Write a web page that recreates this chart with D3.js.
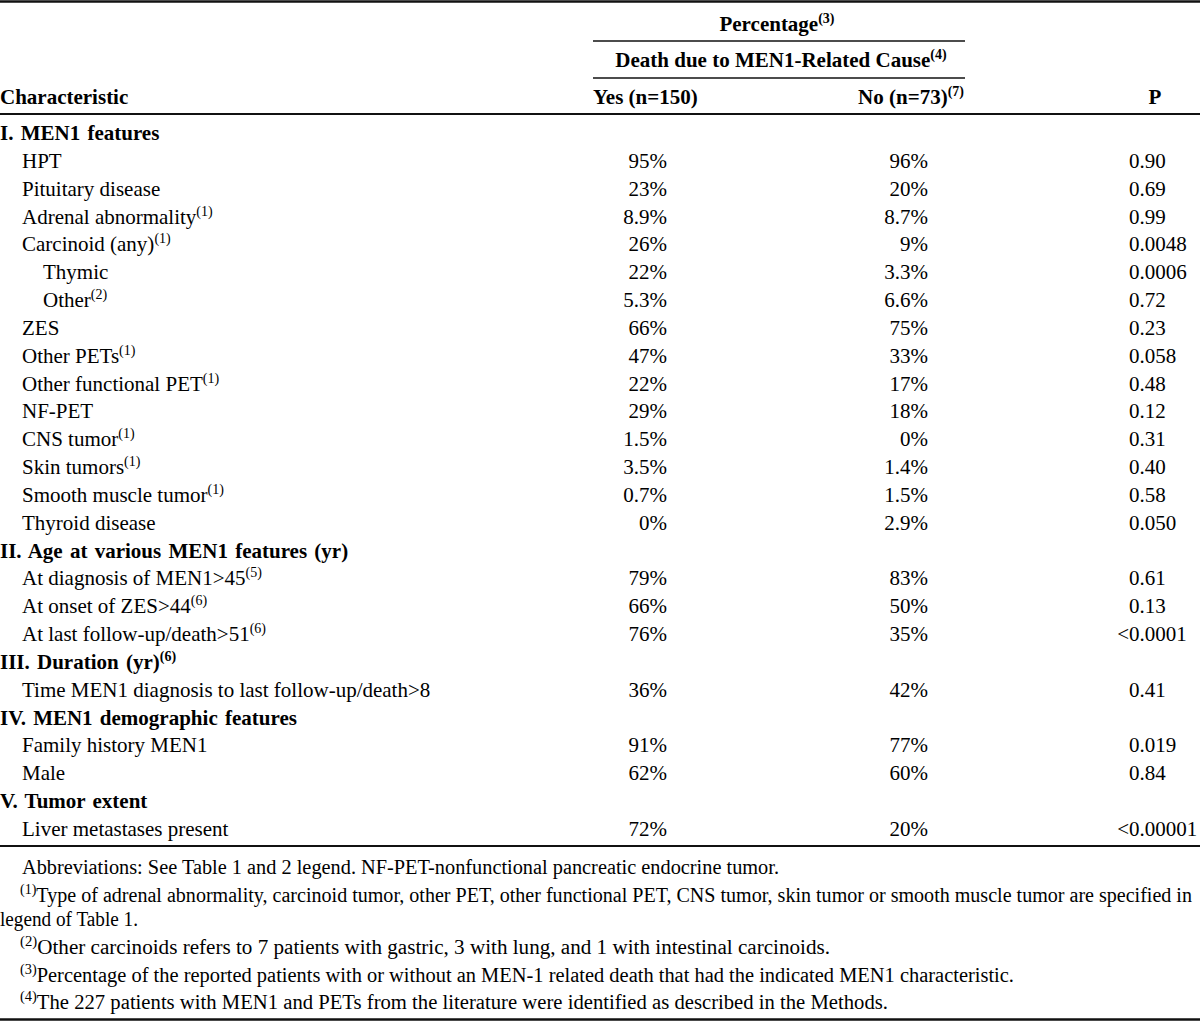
<!DOCTYPE html>
<html>
<head>
<meta charset="utf-8">
<script src="https://cdn.jsdelivr.net/npm/d3@7"></script>
<style>
  html, body { margin: 0; padding: 0; background: #fff; }
  svg { display: block; }
  text { font-family: "Liberation Serif", "Times New Roman", serif; fill: #000; }
</style>
</head>
<body>
<svg id="chart" width="1200" height="1022"></svg>
<script>
// ---------------- data ----------------
const characteristics = [
  "I. MEN1 features", "HPT", "Pituitary disease", "Adrenal abnormality", "Carcinoid (any)",
  "Thymic", "Other", "ZES", "Other PETs", "Other functional PET", "NF-PET", "CNS tumor",
  "Skin tumors", "Smooth muscle tumor", "Thyroid disease",
  "II. Age at various MEN1 features (yr)", "At diagnosis of MEN1>45", "At onset of ZES>44",
  "At last follow-up/death>51", "III. Duration (yr)", "Time MEN1 diagnosis to last follow-up/death>8",
  "IV. MEN1 demographic features", "Family history MEN1", "Male",
  "V. Tumor extent", "Liver metastases present"
];
// 0 = section heading, 1 = item, 2 = sub-item
const levels = [0,1,1,1,1,2,2,1,1,1,1,1,1,1,1,0,1,1,1,0,1,0,1,1,0,1];
const labelNotes = ["","","","(1)","(1)","","(2)","","(1)","(1)","","(1)","(1)","(1)","",
  "","(5)","(6)","(6)","(6)","","","","","",""];
const yesPct = [null,95,23,8.9,26,22,5.3,66,47,22,29,1.5,3.5,0.7,0,null,79,66,76,null,36,null,91,62,null,72];
const noPct  = [null,96,20,8.7,9,3.3,6.6,75,33,17,18,0,1.4,1.5,2.9,null,83,50,35,null,42,null,77,60,null,20];
const pValues = [null,"0.90","0.69","0.99","0.0048","0.0006","0.72","0.23","0.058","0.48","0.12","0.31",
  "0.40","0.58","0.050",null,"0.61","0.13","<0.0001",null,"0.41",null,"0.019","0.84",null,"<0.00001"];

const headerTop = "Percentage", headerTopNote = "(3)";
const headerMid = "Death due to MEN1-Related Cause", headerMidNote = "(4)";
const columnLabels = ["Characteristic", "Yes (n=150)", "No (n=73)", "P"];
const columnNotes = ["", "", "(7)", ""];

const footnotes = [
  {note: "", text: "Abbreviations: See Table 1 and 2 legend. NF-PET-nonfunctional pancreatic endocrine tumor."},
  {note: "(1)", text: "Type of adrenal abnormality, carcinoid tumor, other PET, other functional PET, CNS tumor, skin tumor or smooth muscle tumor are specified in"},
  {note: "", text: "legend of Table 1.", cont: true},
  {note: "(2)", text: "Other carcinoids refers to 7 patients with gastric, 3 with lung, and 1 with intestinal carcinoids."},
  {note: "(3)", text: "Percentage of the reported patients with or without an MEN-1 related death that had the indicated MEN1 characteristic."},
  {note: "(4)", text: "The 227 patients with MEN1 and PETs from the literature were identified as described in the Methods."}
];

// ---------------- layout ----------------
const W = 1200;
const svg = d3.select("#chart");
const FS = 21, SUP = 14;

const y = d3.scalePoint().domain(d3.range(characteristics.length)).range([140, 836]);
const indent = d3.scaleOrdinal().domain([0,1,2]).range([0, 22, 43]);

function addSup(sel, note) {
  if (note) sel.append("tspan").attr("dy", -8).attr("font-size", SUP).text(note);
}

// rules
function rule(x1, x2, yy, w) {
  svg.append("line").attr("x1", x1).attr("x2", x2).attr("y1", yy).attr("y2", yy)
    .attr("stroke", "#111").attr("stroke-width", w);
}
rule(0, W, 1.5, 2.4);
rule(593, 965, 41, 1.7);
rule(593, 965, 78, 1.7);
rule(0, W, 114, 2.2);
rule(0, W, 846, 2.2);
rule(0, W, 1019.5, 2.4);

// header
const t1 = svg.append("text").attr("x", 777).attr("y", 31).attr("text-anchor", "middle")
  .attr("font-size", FS).attr("font-weight", "bold").text(headerTop);
addSup(t1, headerTopNote);
const t2 = svg.append("text").attr("x", 781).attr("y", 67).attr("text-anchor", "middle")
  .attr("font-size", FS).attr("font-weight", "bold").text(headerMid);
addSup(t2, headerMidNote);

const colX = [0, 593, 964, 1155];
const colAnchor = ["start", "start", "end", "middle"];
columnLabels.forEach((c, i) => {
  const t = svg.append("text").attr("x", colX[i]).attr("y", 104).attr("text-anchor", colAnchor[i])
    .attr("font-size", FS).attr("font-weight", "bold").text(c);
  addSup(t, columnNotes[i]);
});

// body rows
const rows = svg.append("g").selectAll("g").data(characteristics).join("g")
  .attr("transform", (d, i) => `translate(0,${y(i)})`);

rows.append("text")
  .attr("x", (d, i) => indent(levels[i]))
  .attr("font-size", FS)
  .attr("font-weight", (d, i) => levels[i] === 0 ? "bold" : "normal")
  .attr("word-spacing", (d, i) => levels[i] === 0 ? 2 : 0)
  .each(function(d, i) {
    const t = d3.select(this);
    t.append("tspan").text(d);
    if (labelNotes[i]) t.append("tspan").attr("dy", -8).attr("font-size", SUP).text(labelNotes[i]);
  });

const fmtPct = v => v + "%";
rows.each(function(d, i) {
  const g = d3.select(this);
  if (yesPct[i] !== null)
    g.append("text").attr("x", 667).attr("text-anchor", "end").attr("font-size", FS).text(fmtPct(yesPct[i]));
  if (noPct[i] !== null)
    g.append("text").attr("x", 928).attr("text-anchor", "end").attr("font-size", FS).text(fmtPct(noPct[i]));
  const p = pValues[i];
  const pX = 1129;
  if (p !== null) {
    if (p.startsWith("<")) {
      g.append("text").attr("x", pX).attr("text-anchor", "end").attr("font-size", FS).text("<");
      g.append("text").attr("x", pX).attr("font-size", FS).text(p.slice(1));
    } else {
      g.append("text").attr("x", pX).attr("font-size", FS).text(p);
    }
  }
});

// footnotes
const fy = [874, 902, 926, 954, 982, 1009];
const fx = [22, 20, 0, 20, 20, 20];
const fWidths = [757, 1172, 138, 810, 994, 868];
footnotes.forEach((f, i) => {
  const t = svg.append("text").attr("x", fx[i]).attr("y", fy[i]).attr("font-size", 20)
    .attr("textLength", fWidths[i]).attr("lengthAdjust", "spacingAndGlyphs");
  if (f.note) t.append("tspan").attr("dy", -8).attr("font-size", SUP).text(f.note);
  t.append("tspan").attr("dy", f.note ? 8 : 0).text(f.text);
});
</script>
</body>
</html>
